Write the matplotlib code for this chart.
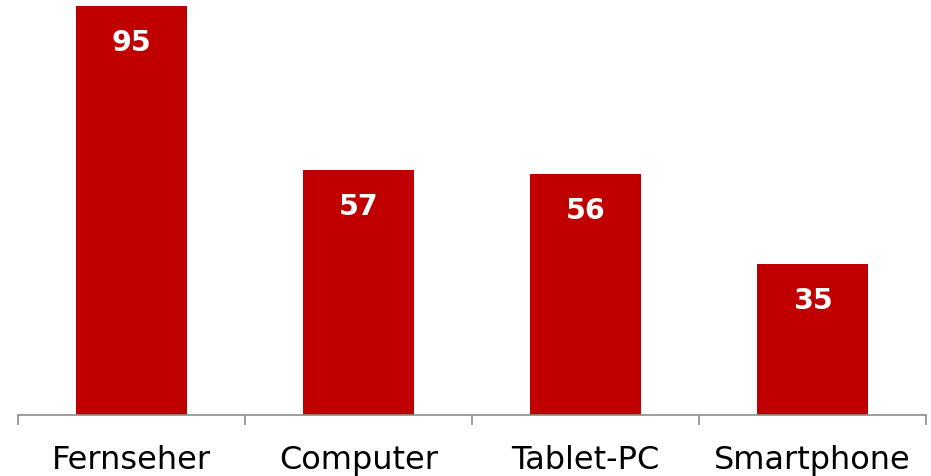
import matplotlib
matplotlib.use("Agg")
import matplotlib.pyplot as plt

categories = ["Fernseher", "Computer", "Tablet-PC", "Smartphone"]
values = [95, 57, 56, 35]

fig = plt.figure(figsize=(9.31, 4.77), dpi=100)
ax = fig.add_axes([18 / 931, 1 - 416 / 477, 908 / 931, 416 / 477])

x = list(range(len(categories)))
ax.bar(x, values, width=0.485, color="#C00000")

# value labels sit just inside the top of each bar
for xi, v in zip(x, values):
    ax.annotate(str(v), (xi, v), xytext=(0, -26), textcoords="offset points",
                ha="center", va="center", color="white", fontsize=20.5, fontweight="bold")

ax.set_xlim(-0.5, len(categories) - 0.5)
ax.set_ylim(0, 96.6)
ax.set_yticks([])
for side in ["top", "right", "left"]:
    ax.spines[side].set_visible(False)
ax.spines["bottom"].set_color("#8C8C8C")
ax.spines["bottom"].set_linewidth(1.2)

ax.set_xticks(x)
ax.set_xticklabels(categories, fontsize=23)
ax.tick_params(axis="x", which="major", length=0, pad=21)
ax.set_xticks([i - 0.5 for i in range(len(categories) + 1)], minor=True)
ax.tick_params(axis="x", which="minor", length=7.5, width=1.2, color="#8C8C8C", direction="out")

fig.savefig("out.png", dpi=100)
